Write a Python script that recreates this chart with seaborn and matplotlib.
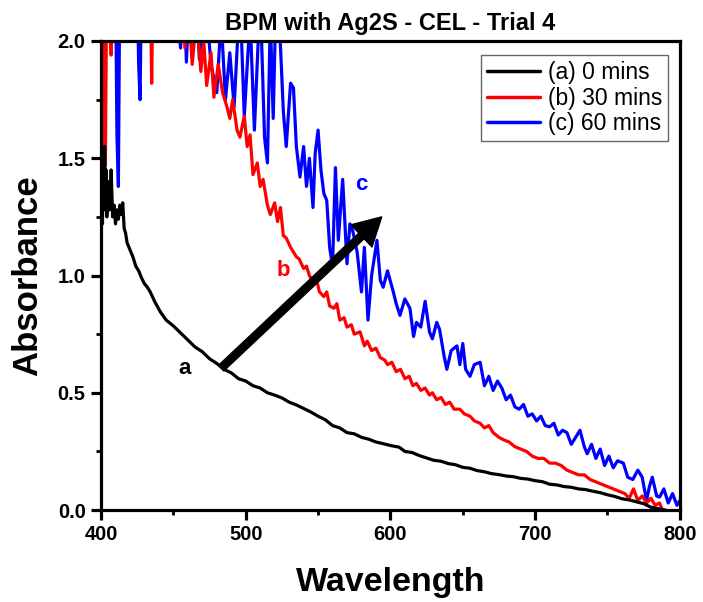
import pandas as pd
import matplotlib.pyplot as plt
import seaborn as sns

# (a) 0 mins
wl_a = [400, 400.5, 401, 401.5, 402, 402.5, 403, 403.5, 404, 405, 406, 407, 408, 409, 410,
        411, 412, 413, 414, 415, 416, 417, 418, 420, 422, 424, 426, 428, 430, 432, 434, 437,
        441, 445, 450, 455, 460, 465, 470, 475, 480, 485, 490, 495, 500, 505, 510, 515, 520,
        525, 530, 535, 541, 545, 550, 555, 560, 565, 570, 575, 580, 585, 590, 595, 600, 606,
        610, 615, 620, 625, 630, 635, 640, 645, 650, 655, 660, 665, 670, 675, 680, 685, 690,
        695, 700, 705, 710, 715, 720, 725, 730, 735, 740, 745, 750, 755, 760, 765, 770, 775,
        780, 785, 790]
abs_a = [1.30, 1.42, 1.22, 1.50, 1.28, 1.55, 1.35, 1.45, 1.25, 1.40, 1.28, 1.45, 1.25, 1.30, 1.22,
         1.28, 1.24, 1.30, 1.26, 1.31, 1.20, 1.18, 1.14, 1.11, 1.08, 1.04, 1.02, 0.99, 0.965, 0.95,
         0.93, 0.89, 0.845, 0.81, 0.785, 0.755, 0.725, 0.695, 0.675, 0.645, 0.625, 0.60, 0.585,
         0.56, 0.55, 0.53, 0.52, 0.50, 0.49, 0.478, 0.46, 0.448, 0.43, 0.418, 0.40, 0.385, 0.36,
         0.35, 0.33, 0.325, 0.31, 0.302, 0.29, 0.283, 0.275, 0.268, 0.25, 0.245, 0.232, 0.222,
         0.212, 0.208, 0.198, 0.193, 0.182, 0.178, 0.168, 0.163, 0.155, 0.151, 0.145, 0.142,
         0.135, 0.132, 0.125, 0.121, 0.11, 0.107, 0.10, 0.097, 0.09, 0.087, 0.08, 0.074, 0.065,
         0.058, 0.048, 0.043, 0.035, 0.027, 0.012, 0.006, 0.0]

# (b) 30 mins
wl_b = [400, 401, 402, 403, 404, 405, 407, 408, 410, 420, 430, 434, 435, 436, 440, 450, 455,
        458, 460, 463, 466, 469, 471, 473, 476, 478, 481, 484, 487, 489, 491, 494, 496, 499,
        501, 503, 505, 508, 510, 512, 515, 517, 520, 522, 524, 526, 528, 531, 533, 535, 537,
        540, 542, 544, 547, 549, 551, 554, 556, 558, 561, 563, 565, 568, 570, 573, 575, 579,
        582, 584, 587, 590, 593, 596, 598, 601, 604, 607, 610, 613, 615.5, 618, 621, 624, 627,
        629, 632, 635, 638, 641, 644, 648, 651, 655, 658, 662, 665, 668, 671, 675, 678, 682,
        686, 690, 694, 698, 702, 706, 710, 714, 718, 722, 726, 730, 734, 738, 742, 746, 750,
        754, 758, 762, 765, 768, 771, 774, 777, 780, 783, 786, 788]
abs_b = [2.3, 2.3, 1.58, 1.47, 2.3, 2.3, 1.94, 2.3, 2.3, 2.3, 2.3, 2.3, 1.82, 2.3, 2.3, 2.3, 2.3,
         1.97, 2.2, 1.90, 2.1, 1.87, 2.0, 1.81, 1.95, 1.76, 1.90, 1.78, 1.72, 1.67, 1.75, 1.62,
         1.59, 1.68, 1.55, 1.60, 1.43, 1.48, 1.38, 1.41, 1.30, 1.26, 1.31, 1.23, 1.29, 1.17, 1.16,
         1.12, 1.10, 1.08, 1.07, 1.03, 1.04, 1.00, 0.97, 0.98, 0.93, 0.91, 0.93, 0.87, 0.86, 0.88,
         0.81, 0.82, 0.78, 0.79, 0.75, 0.76, 0.70, 0.72, 0.68, 0.69, 0.65, 0.64, 0.62, 0.63, 0.59,
         0.60, 0.56, 0.57, 0.53, 0.54, 0.51, 0.52, 0.49, 0.50, 0.47, 0.48, 0.45, 0.46, 0.43, 0.43,
         0.41, 0.40, 0.38, 0.37, 0.35, 0.36, 0.33, 0.31, 0.30, 0.29, 0.27, 0.26, 0.25, 0.23, 0.22,
         0.22, 0.20, 0.20, 0.19, 0.17, 0.16, 0.15, 0.15, 0.13, 0.12, 0.11, 0.10, 0.09, 0.08, 0.07,
         0.05, 0.09, 0.04, 0.06, 0.03, 0.05, 0.02, 0.03, 0.0]

# (c) 60 mins
wl_c = [400, 401, 402, 405, 408, 410, 411, 412, 413, 415, 420, 425, 426, 427, 428, 430, 440,
        450, 455, 457, 459, 461, 463, 465, 468, 472, 476, 480, 483, 486, 489, 492, 496, 499,
        503, 506, 510, 513, 515, 517, 519, 521, 524, 526, 528, 531, 533, 535, 537.5, 540, 542,
        544, 546.5, 548, 550, 552, 554, 556, 558, 560, 562, 564, 567, 570, 572, 574, 577, 580,
        582, 584.5, 587, 590.7, 593, 595, 598, 602, 604, 606.6, 610, 613.5, 616, 618, 621, 624,
        627, 629, 632, 634, 637, 639, 642, 646, 648, 650, 652, 655, 658, 662, 665, 668, 671,
        674, 677, 680, 683, 686, 689, 692, 695, 698, 701, 704, 707, 710, 713, 716, 719, 722,
        725, 728, 731, 734, 736, 739, 742, 745, 748, 751, 754, 757, 761, 764, 767.5, 771, 774,
        777, 779, 781, 784, 786, 789, 792, 795, 798, 800]
abs_c = [2.3, 1.6, 2.3, 2.3, 2.3, 2.3, 1.6, 1.38, 2.3, 2.3, 2.3, 2.3, 1.9, 1.75, 2.3, 2.3, 2.3,
         2.3, 1.97, 2.3, 1.91, 2.2, 1.95, 2.3, 1.92, 2.2, 1.90, 1.78, 2.1, 1.75, 1.95, 1.72, 2.2,
         1.68, 2.1, 1.62, 2.2, 1.59, 1.48, 2.1, 1.67, 2.2, 1.98, 1.70, 1.55, 1.82, 1.80, 1.55,
         1.42, 1.55, 1.38, 1.50, 1.29, 1.52, 1.62, 1.45, 1.35, 1.32, 1.12, 1.04, 1.46, 1.15, 1.41,
         1.05, 1.22, 1.19, 1.10, 0.93, 1.12, 0.81, 1.00, 1.15, 0.98, 0.95, 1.02, 0.93, 0.88, 0.83,
         0.90, 0.86, 0.74, 0.80, 0.78, 0.89, 0.76, 0.73, 0.80, 0.77, 0.66, 0.60, 0.68, 0.70, 0.62,
         0.71, 0.60, 0.57, 0.62, 0.63, 0.53, 0.57, 0.51, 0.55, 0.52, 0.47, 0.49, 0.44, 0.43, 0.45,
         0.40, 0.41, 0.38, 0.40, 0.36, 0.355, 0.37, 0.32, 0.34, 0.33, 0.28, 0.31, 0.34, 0.27, 0.24,
         0.28, 0.22, 0.26, 0.19, 0.23, 0.18, 0.21, 0.20, 0.14, 0.13, 0.17, 0.14, 0.04, 0.10, 0.14,
         0.06, 0.055, 0.09, 0.03, 0.07, 0.02, 0.04]

labels = ['(a) 0 mins', '(b) 30 mins', '(c) 60 mins']
colors = ['#000000', '#ff0000', '#0000ff']


def main():
    df = pd.concat([
        pd.DataFrame({'Wavelength': wl_a, 'Absorbance': abs_a, 'Sample': labels[0]}),
        pd.DataFrame({'Wavelength': wl_b, 'Absorbance': abs_b, 'Sample': labels[1]}),
        pd.DataFrame({'Wavelength': wl_c, 'Absorbance': abs_c, 'Sample': labels[2]}),
    ])

    sns.set_style('ticks')
    plt.rcParams['font.family'] = ['Liberation Sans', 'DejaVu Sans']
    plt.rcParams['text.color'] = 'black'
    plt.rcParams['axes.labelcolor'] = 'black'
    plt.rcParams['xtick.color'] = 'black'
    plt.rcParams['ytick.color'] = 'black'

    fig = plt.figure(figsize=(7.03, 6.02), dpi=100)
    ax = fig.add_axes([0.1437, 0.1528, 0.8233, 0.7791])

    # draw c first so a ends on top
    sns.lineplot(data=df, x='Wavelength', y='Absorbance', hue='Sample',
                 hue_order=labels[::-1], palette=dict(zip(labels, colors)),
                 estimator=None, sort=False, linewidth=2.3, ax=ax, legend=False)

    ax.set_xlim(400, 800)
    ax.set_ylim(0, 2.0)
    ax.set_xticks([400, 500, 600, 700, 800])
    ax.set_xticks([450, 550, 650, 750], minor=True)
    ax.set_yticks([0.0, 0.5, 1.0, 1.5, 2.0])
    ax.set_yticks([0.25, 0.75, 1.25, 1.75], minor=True)
    ax.set_yticklabels(['0.0', '0.5', '1.0', '1.5', '2.0'])
    for s in ax.spines.values():
        s.set_linewidth(2.3)
        s.set_color('black')
    ax.tick_params(which='major', direction='out', length=7, width=2.3,
                   labelsize=14.5, pad=4)
    ax.tick_params(which='minor', direction='out', length=3.5, width=2.0)
    for t in ax.get_xticklabels() + ax.get_yticklabels():
        t.set_fontweight('bold')

    ax.set_xlabel('Wavelength', fontsize=24.5, fontweight='bold', labelpad=16)
    ax.set_ylabel('Absorbance', fontsize=25, fontweight='bold', labelpad=10)
    ax.set_title('BPM with Ag2S - CEL - Trial 4', fontsize=17, fontweight='bold', pad=8)

    # arrow and curve letters
    ax.annotate('', xy=(594, 1.25), xytext=(483, 0.605),
                arrowprops=dict(facecolor='black', edgecolor='black',
                                width=5.5, headwidth=22, headlength=20))
    ax.text(458, 0.605, 'a', color='black', fontsize=16, fontweight='bold',
            ha='center', va='center')
    ax.text(525.7, 1.02, 'b', color='red', fontsize=16, fontweight='bold',
            ha='center', va='center')
    ax.text(579.6, 1.39, 'c', color='blue', fontsize=16, fontweight='bold',
            ha='center', va='center')

    handles = [plt.Line2D([], [], color=c, linewidth=2.5) for c in colors]
    leg = ax.legend(handles, labels, loc='upper right', fontsize=16.5, frameon=True,
                    fancybox=False, handlelength=2.3, handletextpad=0.35,
                    borderpad=0.25, labelspacing=0.12, borderaxespad=0,
                    bbox_to_anchor=(0.979, 0.970))
    leg.get_frame().set_edgecolor('#404040')
    leg.get_frame().set_linewidth(1.0)

    fig.savefig('out.png', dpi=100)


if __name__ == '__main__':
    main()
